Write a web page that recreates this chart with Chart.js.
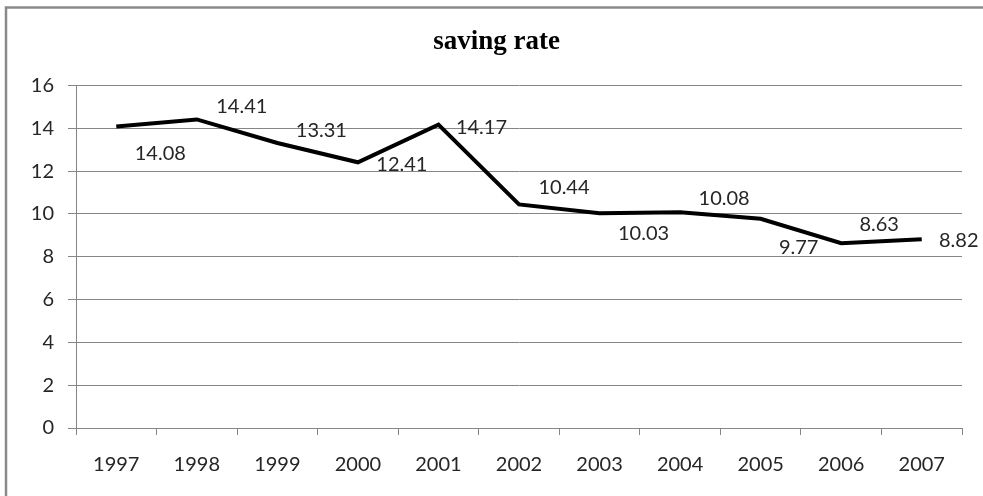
<!DOCTYPE html>
<html>
<head>
<meta charset="utf-8">
<script src="https://cdn.jsdelivr.net/npm/chart.js@4/dist/chart.umd.min.js"></script>
<style>
  html, body { margin: 0; padding: 0; background: #fff; }
  #wrap { width: 983px; height: 496px; position: relative; }
</style>
</head>
<body>
<div id="wrap"><canvas id="c" width="983" height="496"></canvas></div>
<script>
// ---- data ----
const years = ['1997','1998','1999','2000','2001','2002','2003','2004','2005','2006','2007'];
const savingRate = [14.08, 14.41, 13.31, 12.41, 14.17, 10.44, 10.03, 10.08, 9.77, 8.63, 8.82];
const yTicks = [0, 2, 4, 6, 8, 10, 12, 14, 16];
const titleText = 'saving rate';

// label offsets (style only): [dx, dy] from each point
const labelOffsets = [[44,27],[45,-13],[44,-12],[44,2],[43,3],[45,-17],[44,20],[44,-14],[38,29],[38,-19],[37,1]];

const frame = {
  id: 'frame',
  beforeDraw(chart) {
    const ctx = chart.ctx;
    ctx.save();
    ctx.strokeStyle = '#8a8a8a';
    ctx.lineWidth = 2.5;
    ctx.strokeRect(6, 7.5, 1200, 1200);
    ctx.restore();
  }
};

const dataLabels = {
  id: 'dataLabels',
  afterDatasetsDraw(chart) {
    const ctx = chart.ctx;
    const meta = chart.getDatasetMeta(0);
    ctx.save();
    ctx.font = '20px Lato';
    ctx.fillStyle = '#262626';
    ctx.textAlign = 'center';
    ctx.textBaseline = 'middle';
    meta.data.forEach((pt, i) => {
      const v = chart.data.datasets[0].data[i];
      const o = labelOffsets[i];
      ctx.fillText(v.toFixed(2), pt.x + o[0], pt.y + o[1]);
    });
    ctx.restore();
  }
};

new Chart(document.getElementById('c'), {
  type: 'line',
  data: {
    labels: years,
    datasets: [{
      data: savingRate,
      borderColor: '#000',
      borderWidth: 4,
      pointRadius: 0,
      tension: 0,
      fill: false,
      borderJoinStyle: 'miter'
    }]
  },
  options: {
    responsive: false,
    animation: false,
    layout: { padding: { left: 31, right: 21, top: 0, bottom: 1 } },
    plugins: {
      legend: { display: false },
      tooltip: { enabled: false },
      title: {
        display: true,
        text: titleText,
        color: '#000',
        font: { family: '"Liberation Serif", serif', size: 27, weight: 'bold', lineHeight: 1.2 },
        padding: { top: 26, bottom: 27 }
      }
    },
    scales: {
      x: {
        offset: true,
        grid: { drawOnChartArea: false, drawTicks: true, tickLength: 7, offset: true, color: '#868686' },
        border: { color: '#868686', width: 1 },
        ticks: { color: '#262626', font: { family: 'Lato', size: 20 }, padding: 18, maxRotation: 0 }
      },
      y: {
        min: 0, max: 16,
        afterFit(s) { s.width = 45; },
        afterBuildTicks(s) { s.ticks = yTicks.map(v => ({ value: v })); },
        grid: { color: '#868686', tickLength: 8 },
        border: { color: '#868686', width: 1 },
        ticks: { color: '#262626', font: { family: 'Lato', size: 20 }, padding: 14 }
      }
    }
  },
  plugins: [frame, dataLabels]
});
</script>
</body>
</html>
